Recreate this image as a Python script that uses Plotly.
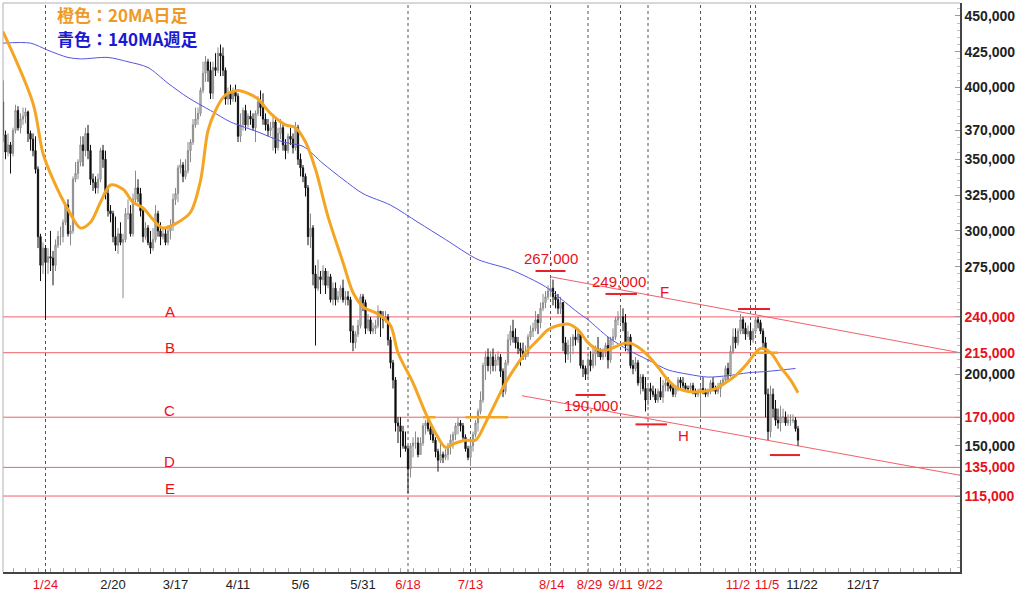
import plotly.graph_objects as go
import pandas as pd

# ---------------- data (thousand JPY) ----------------
start_date = "2022-01-07"
first_open_k = 390

close_k = [
    # Jan 7-31
    367, 355, 360, 354, 370, 384, 372, 378, 380, 383, 368, 364, 356, 343, 296, 276, 288, 278, 282, 281, 276, 290, 296, 296, 306,
    # Feb
    318, 298, 300, 336, 340, 348, 360, 356, 368, 356, 336, 334, 330, 336, 356, 350, 326, 314, 312, 296, 290, 298, 292, 294, 312, 312, 298, 322,
    # Mar
    330, 326, 314, 296, 302, 292, 288, 294, 312, 300, 296, 298, 292, 300, 304, 322, 326, 344, 346, 338, 342, 356, 362, 374, 378, 382, 398, 410, 418, 412, 396,
    # Apr
    414, 412, 424, 422, 412, 392, 396, 392, 398, 394, 366, 374, 384, 374, 380, 378, 372, 382, 390, 386, 378, 374, 370, 372, 376, 358, 368, 372, 360, 356,
    # May
    366, 364, 358, 372, 350, 344, 338, 330, 296, 302, 270, 260, 268, 266, 272, 262, 268, 252, 260, 252, 254, 260, 252, 254, 252, 230, 222, 228, 234, 254, 250,
    # Jun
    232, 238, 230, 232, 234, 244, 240, 238, 240, 224, 208, 196, 166, 164, 160, 150, 148, 134, 150, 152, 152, 144, 152, 164, 166, 162, 158, 154, 146, 140,
    # Jul
    144, 142, 144, 150, 154, 158, 164, 166, 164, 156, 148, 142, 150, 158, 166, 174, 182, 206, 212, 206, 212, 206, 210, 212, 202, 188, 208, 224, 230, 226, 222,
    # Aug
    218, 216, 212, 214, 226, 230, 232, 238, 236, 246, 250, 254, 258, 260, 254, 252, 246, 250, 222, 214, 220, 220, 226, 224, 228, 206, 204, 200, 210, 206, 214,
    # Sep
    218, 216, 212, 216, 220, 210, 224, 226, 238, 240, 240, 236, 220, 226, 206, 204, 208, 194, 198, 190, 182, 190, 188, 186, 182, 188, 184, 192, 194, 192,
    # Oct
    190, 186, 190, 196, 194, 192, 190, 190, 192, 188, 186, 188, 190, 188, 186, 188, 194, 190, 188, 190, 194, 196, 204, 200, 216, 226, 222, 230, 238, 232, 228,
    # Nov 1-21
    230, 224, 230, 238, 236, 230, 222, 186, 160, 186, 176, 168, 166, 170, 170, 166, 168, 168, 168, 162, 154,
]

high_k = [
    405, 370, 368, 362, 372, 388, 387, 382, 386, 386, 384, 370, 368, 366, 345, 298, 292, 290, 288, 300, 286, 294, 300, 303, 308,
    320, 322, 304, 338, 348, 350, 366, 366, 372, 374, 360, 340, 338, 340, 358, 360, 356, 330, 318, 314, 310, 302, 306, 298, 316, 322, 318, 326,
    342, 336, 330, 316, 306, 304, 300, 302, 318, 314, 306, 302, 302, 304, 308, 326, 330, 346, 350, 348, 350, 362, 364, 378, 386, 386, 400, 418, 422, 420, 418,
    418, 424, 428, 430, 428, 414, 400, 402, 400, 402, 396, 382, 386, 388, 382, 384, 382, 384, 394, 398, 396, 382, 378, 376, 380, 378, 372, 378, 374, 364,
    368, 372, 368, 376, 374, 354, 346, 340, 332, 312, 304, 276, 280, 272, 276, 274, 272, 270, 264, 264, 258, 262, 266, 258, 258, 254, 234, 230, 238, 256, 256,
    252, 242, 240, 236, 238, 248, 244, 244, 244, 242, 226, 210, 198, 170, 170, 164, 160, 150, 152, 156, 160, 156, 156, 166, 168, 170, 166, 162, 156, 148,
    152, 146, 148, 152, 158, 160, 166, 170, 168, 166, 158, 150, 154, 160, 168, 176, 188, 208, 216, 218, 216, 218, 214, 216, 214, 204, 210, 228, 234, 238, 232,
    226, 222, 222, 220, 228, 234, 236, 244, 242, 250, 256, 258, 262, 267, 266, 258, 256, 254, 250, 226, 224, 226, 228, 232, 232, 230, 210, 206, 214, 216, 220,
    220, 226, 218, 218, 222, 226, 226, 232, 240, 244, 247, 246, 242, 230, 228, 210, 212, 210, 200, 200, 198, 192, 194, 192, 190, 190, 198, 196, 198, 198,
    194, 192, 192, 198, 198, 198, 194, 192, 194, 194, 190, 190, 192, 198, 190, 190, 196, 198, 192, 194, 196, 198, 206, 208, 220, 232, 232, 232, 242, 240, 236,
    234, 236, 232, 240, 240, 238, 232, 226, 190, 192, 190, 182, 176, 178, 176, 174, 172, 172, 172, 170, 164,
]

low_k = [
    362, 350, 352, 340, 352, 368, 370, 368, 374, 375, 362, 356, 352, 340, 288, 265, 270, 238, 270, 272, 262, 272, 288, 290, 292,
    304, 296, 290, 298, 334, 336, 345, 345, 352, 350, 332, 328, 326, 326, 334, 344, 322, 310, 306, 292, 286, 284, 290, 253, 292, 308, 296, 296,
    318, 320, 310, 292, 294, 290, 284, 286, 292, 296, 290, 294, 290, 290, 294, 300, 318, 320, 340, 334, 336, 340, 348, 360, 372, 374, 380, 396, 404, 404, 392,
    392, 408, 410, 408, 408, 388, 388, 388, 390, 390, 362, 362, 370, 370, 372, 374, 370, 362, 380, 380, 374, 370, 366, 366, 356, 354, 356, 364, 356, 350,
    354, 360, 354, 356, 346, 338, 334, 324, 290, 288, 262, 220, 258, 256, 262, 256, 260, 250, 248, 248, 250, 252, 250, 248, 248, 222, 216, 218, 226, 232, 244,
    228, 230, 228, 228, 228, 232, 226, 232, 236, 220, 204, 190, 160, 152, 142, 148, 146, 117, 128, 142, 148, 142, 144, 150, 158, 160, 154, 152, 142, 132,
    138, 138, 140, 140, 144, 148, 154, 158, 160, 154, 146, 140, 136, 146, 156, 160, 172, 180, 196, 202, 200, 202, 202, 206, 198, 184, 186, 206, 220, 222, 218,
    214, 206, 210, 210, 212, 224, 226, 230, 228, 232, 244, 246, 252, 254, 248, 246, 242, 242, 216, 208, 210, 208, 214, 220, 222, 204, 198, 196, 197, 202, 204,
    206, 212, 210, 210, 212, 204, 208, 220, 224, 234, 236, 230, 216, 214, 204, 200, 202, 192, 186, 188, 174, 178, 182, 184, 180, 180, 182, 180, 188, 188,
    188, 184, 184, 188, 190, 190, 188, 188, 188, 186, 184, 184, 170, 186, 184, 184, 186, 188, 186, 186, 184, 192, 194, 196, 198, 214, 218, 220, 228, 228, 224,
    226, 220, 222, 228, 232, 228, 218, 170, 154, 156, 170, 164, 162, 160, 166, 164, 164, 164, 166, 160, 150,
]

# 20MA daily (orange)
ma20_dates = ["2022-01-07", "2022-01-19", "2022-01-23", "2022-01-27", "2022-02-02", "2022-02-07", "2022-02-11",
              "2022-02-15", "2022-02-19", "2022-02-24", "2022-02-28", "2022-03-04", "2022-03-08", "2022-03-12",
              "2022-03-18", "2022-03-23", "2022-03-27", "2022-03-30", "2022-04-02", "2022-04-05", "2022-04-07",
              "2022-04-11", "2022-04-15", "2022-04-19", "2022-04-24", "2022-04-30", "2022-05-04", "2022-05-08",
              "2022-05-12", "2022-05-17", "2022-05-23", "2022-05-27", "2022-05-31", "2022-06-06", "2022-06-11",
              "2022-06-14", "2022-06-20", "2022-06-25", "2022-06-29", "2022-07-03", "2022-07-07", "2022-07-11",
              "2022-07-15", "2022-07-19", "2022-07-23", "2022-07-27", "2022-07-31", "2022-08-04", "2022-08-09",
              "2022-08-13", "2022-08-17", "2022-08-21", "2022-08-25", "2022-08-29", "2022-09-02", "2022-09-06",
              "2022-09-10", "2022-09-14", "2022-09-18", "2022-09-22", "2022-09-26", "2022-09-30", "2022-10-04",
              "2022-10-08", "2022-10-14", "2022-10-19", "2022-10-23", "2022-10-27", "2022-10-31", "2022-11-04",
              "2022-11-06", "2022-11-10", "2022-11-14", "2022-11-18", "2022-11-21"]
ma20_k = [439, 389, 354, 336, 315, 302, 306,
          320, 332, 329, 320, 316, 308, 302,
          306, 313, 335, 370, 384, 393, 396,
          398, 396, 392, 382, 374, 372, 362,
          343, 310, 278, 257, 247, 242, 234,
          215, 194, 173, 159, 149, 152, 154,
          154, 166, 180, 194, 205, 215, 224,
          231, 234, 235, 231, 222, 217, 217,
          220, 222, 219, 213, 205, 196, 190,
          188, 188, 190, 194, 199, 206, 215,
          218, 215, 205, 196, 187]

# 140MA weekly (blue)
ma140_dates = ["2022-01-07", "2022-01-18", "2022-01-25", "2022-02-02", "2022-02-07", "2022-02-18", "2022-02-26",
               "2022-03-06", "2022-03-14", "2022-03-22", "2022-03-31", "2022-04-08", "2022-04-19", "2022-04-29",
               "2022-05-07", "2022-05-15", "2022-05-23", "2022-05-31", "2022-06-11", "2022-06-22", "2022-07-03",
               "2022-07-16", "2022-07-29", "2022-08-12", "2022-08-20", "2022-08-25", "2022-08-29", "2022-09-06",
               "2022-09-14", "2022-09-22", "2022-09-30", "2022-10-08", "2022-10-16", "2022-10-24", "2022-11-01",
               "2022-11-09", "2022-11-20"]
ma140_k = [431, 431, 426, 421, 420, 421, 418,
           414, 403, 393, 384, 376, 369, 362,
           359, 347, 336, 326, 318, 306, 294,
           280, 273, 261, 250, 243, 238, 226,
           217, 210, 203, 200, 198, 199, 201,
           202, 204]

# horizontal support / resistance levels
level_names = ["A", "B", "C", "D", "E"]
level_values = [240000, 215000, 170000, 135000, 115000]

# dated vertical markers
vline_dates = ["2022-01-24", "2022-06-18", "2022-07-13", "2022-08-14", "2022-08-29",
               "2022-09-11", "2022-09-22", "2022-10-13", "2022-11-02", "2022-11-04"]

# x-axis labels
xtick_pos = ["2022-01-24", "2022-02-20", "2022-03-17", "2022-04-11", "2022-05-06", "2022-05-31",
             "2022-06-18", "2022-07-13", "2022-08-14 12:00", "2022-08-29 14:00", "2022-09-11",
             "2022-09-22 20:00", "2022-10-28", "2022-11-08 14:00", "2022-11-22 14:00", "2022-12-17"]
xtick_text = ["1/24", "2/20", "3/17", "4/11", "5/6", "5/31", "6/18", "7/13", "8/14", "8/29",
              "9/11", "9/22", "11/2", "11/5", "11/22", "12/17"]
xtick_red = [True, False, False, False, False, False, True, True, True, True,
             True, True, True, True, False, False]

# y-axis labels
ytick_vals = [450000, 425000, 400000, 370000, 350000, 325000, 300000, 275000,
              240000, 215000, 200000, 170000, 150000, 135000, 115000]
ytick_red = [False, False, False, False, False, False, False, False,
             True, True, False, True, False, True, True]

# ---------------- build ----------------
RED = "#e8101a"
LINE_RED = "#f0606a"
ORANGE = "#f5a524"

dates = pd.date_range(start_date, periods=len(close_k), freq="D")
close = [v * 1000 for v in close_k]
open_ = [first_open_k * 1000] + close[:-1]
high = [max(h * 1000, o, c) for h, o, c in zip(high_k, open_, close)]
low = [min(l * 1000, o, c) for l, o, c in zip(low_k, open_, close)]

fig = go.Figure()
fig.add_trace(go.Candlestick(
    x=dates, open=open_, high=high, low=low, close=close,
    increasing=dict(line=dict(color="#8a8a8a", width=1), fillcolor="#d2d2d2"),
    decreasing=dict(line=dict(color="#111111", width=1), fillcolor="#111111"),
    whiskerwidth=0, showlegend=False, hoverinfo="skip",
))
fig.add_trace(go.Scatter(
    x=pd.to_datetime(ma140_dates), y=[v * 1000 for v in ma140_k], mode="lines",
    line=dict(color="#5555e0", width=1, shape="spline", smoothing=0.8),
    showlegend=False, hoverinfo="skip",
))
fig.add_trace(go.Scatter(
    x=pd.to_datetime(ma20_dates), y=[v * 1000 for v in ma20_k], mode="lines",
    line=dict(color=ORANGE, width=3, shape="spline", smoothing=0.9),
    showlegend=False, hoverinfo="skip",
))

x_end = "2023-01-24 19:00"
shapes = []
# frame (left / top)
shapes.append(dict(type="line", xref="paper", yref="paper", x0=0, x1=0, y0=0, y1=1,
                   line=dict(color="#b0b0b0", width=1)))
shapes.append(dict(type="line", xref="paper", yref="paper", x0=0, x1=1, y0=1, y1=1,
                   line=dict(color="#b0b0b0", width=1)))
for d in vline_dates:
    shapes.append(dict(type="line", xref="x", yref="paper", x0=d, x1=d, y0=0, y1=1,
                       line=dict(color="#555555", width=1, dash="dot"), layer="below"))
for v in level_values:
    shapes.append(dict(type="line", xref="paper", yref="y", x0=0, x1=1, y0=v, y1=v,
                       line=dict(color=LINE_RED, width=1), layer="below"))
# trend lines F and H
shapes.append(dict(type="line", xref="x", yref="y", x0="2022-08-14", y0=268000, x1=x_end, y1=215000,
                   line=dict(color=LINE_RED, width=1), layer="below"))
shapes.append(dict(type="line", xref="x", yref="y", x0="2022-08-02 14:00", y0=185000, x1=x_end, y1=129500,
                   line=dict(color=LINE_RED, width=1), layer="below"))
# short red markers
marks = [("2022-08-08", "2022-08-20", 272000), ("2022-09-05", "2022-09-17 14:00", 256000),
         ("2022-08-24", "2022-09-05", 185500), ("2022-09-17", "2022-09-29 14:00", 165000),
         ("2022-10-28", "2022-11-09 19:00", 245500), ("2022-11-09 19:00", "2022-11-21 19:00", 143600)]
for a, b, v in marks:
    shapes.append(dict(type="line", xref="x", yref="y", x0=a, x1=b, y0=v, y1=v,
                       line=dict(color="#e8202a", width=2)))
# orange highlights
for a, b, v in [("2022-06-24", "2022-06-29", 170000), ("2022-07-11", "2022-07-28", 170000),
                ("2022-11-04", "2022-11-13", 215000)]:
    shapes.append(dict(type="line", xref="x", yref="y", x0=a, x1=b, y0=v, y1=v,
                       line=dict(color=ORANGE, width=2.5)))

annotations = []
lvl_label_y = [244000, 218500, 175000, 139000, 120000]
for name, yv in zip(level_names, lvl_label_y):
    annotations.append(dict(x="2022-03-14 19:00", y=yv, xref="x", yref="y", text=name, showarrow=False,
                            font=dict(color=RED, size=15, family="Liberation Sans, Arial")))
for txt, xd, yv in [("267,000", "2022-08-14", 281000), ("249,000", "2022-09-10 10:00", 264500),
                    ("190,000", "2022-08-30 05:00", 178000)]:
    annotations.append(dict(x=xd, y=yv, xref="x", yref="y", text=txt, showarrow=False,
                            font=dict(color=RED, size=15, family="Liberation Sans, Arial")))
for txt, xd, yv in [("F", "2022-09-28 19:00", 258000), ("H", "2022-10-06", 157500)]:
    annotations.append(dict(x=xd, y=yv, xref="x", yref="y", text=txt, showarrow=False,
                            font=dict(color=RED, size=15, family="Liberation Sans, Arial")))
annotations.append(dict(x=0.054, y=0.979, xref="paper", yref="paper", xanchor="left", yanchor="middle",
                        text="<b>橙色：20MA日足</b>", showarrow=False,
                        font=dict(color="#ee9a2a", size=17, family="Noto Sans CJK JP")))
annotations.append(dict(x=0.054, y=0.937, xref="paper", yref="paper", xanchor="left", yanchor="middle",
                        text="<b>青色：140MA週足</b>", showarrow=False,
                        font=dict(color="#1a1ad2", size=17, family="Noto Sans CJK JP")))

xt = [f"<span style='color:{RED}'>{t}</span>" if r else t for t, r in zip(xtick_text, xtick_red)]
yt = [f"<b><span style='color:{RED}'>{v:,}</span></b>" if r else f"<b>{v:,}</b>"
      for v, r in zip(ytick_vals, ytick_red)]

fig.update_layout(
    width=1024, height=602,
    margin=dict(l=3, r=64, t=3, b=30),
    paper_bgcolor="white", plot_bgcolor="white",
    showlegend=False,
    shapes=shapes, annotations=annotations,
    xaxis=dict(
        type="date", range=["2022-01-07", x_end],
        rangeslider=dict(visible=False),
        tickmode="array", tickvals=xtick_pos, ticktext=xt, ticks="",
        tickfont=dict(size=13, color="#222", family="Liberation Sans, Arial"),
        showline=True, linecolor="#444", linewidth=1.5, showgrid=False, zeroline=False,
        minor=dict(tickmode="linear", tick0="2022-02-20", dtick=5 * 86400000,
                   ticks="inside", ticklen=4, tickcolor="#aaaaaa", showgrid=False),
    ),
    yaxis=dict(
        side="right", range=[62000, 459000],
        tickmode="array", tickvals=ytick_vals, ticktext=yt,
        ticks="inside", ticklen=5, tickcolor="#999",
        tickfont=dict(size=14, color="#222", family="Liberation Sans, Arial"),
        showline=True, linecolor="#444", linewidth=1.5, showgrid=False, zeroline=False,
        minor=dict(tickmode="linear", tick0=0, dtick=5000, ticks="inside", ticklen=3,
                   tickcolor="#c0c0c0", showgrid=False),
    ),
)

fig.write_html("out.html", config={"displayModeBar": False},
               post_script="document.body.style.margin='0px';document.body.style.overflow='hidden';")
